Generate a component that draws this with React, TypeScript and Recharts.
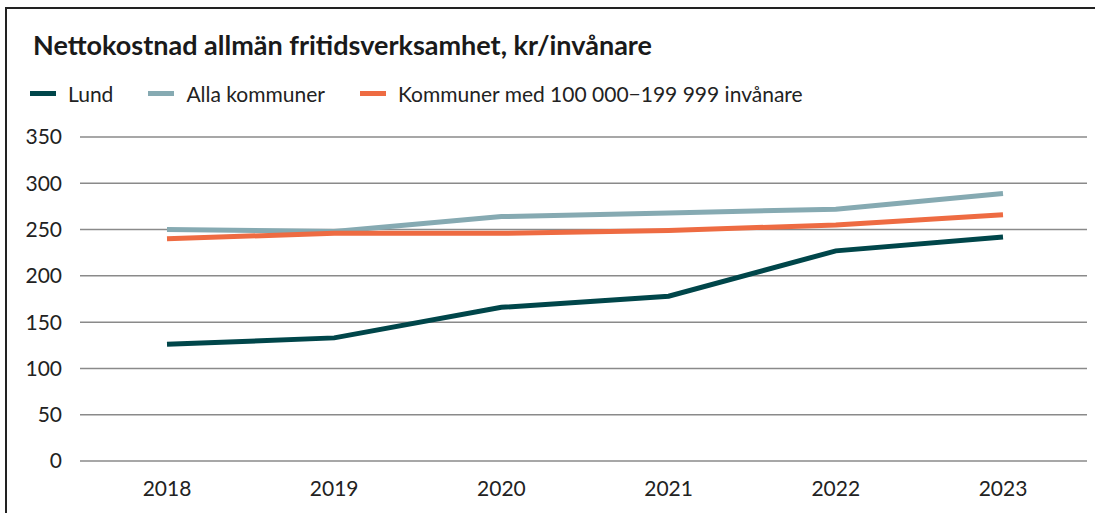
import { CartesianGrid, Line, LineChart, XAxis, YAxis } from "recharts";

const years = ["2018", "2019", "2020", "2021", "2022", "2023"];
const lund = [126, 133, 166, 178, 227, 242];
const allaKommuner = [250, 248, 264, 268, 272, 289];
const storaKommuner = [240, 246, 246, 249, 255, 266];
const yTicks = [0, 50, 100, 150, 200, 250, 300, 350];

const series = [
  { key: "lund", name: "Lund", color: "#00464a" },
  { key: "alla", name: "Alla kommuner", color: "#86aab2" },
  { key: "stora", name: "Kommuner med 100 000\u2212199 999 invånare", color: "#ee6b42" }
];

const data = years.map((year, i) => ({
  year,
  lund: lund[i],
  alla: allaKommuner[i],
  stora: storaKommuner[i]
}));

const FONT = "Lato, 'Open Sans', sans-serif";

export default function App() {
  return (
    <div
      style={{
        position: "absolute",
        left: 0,
        top: 0,
        width: 1095,
        height: 513,
        background: "#fff",
        overflow: "hidden"
      }}
    >
      <div
        style={{
          position: "absolute",
          left: 5,
          top: 7,
          width: 1200,
          height: 600,
          borderLeft: "2px solid #222",
          borderTop: "2px solid #222"
        }}
      />
      <div
        style={{
          position: "absolute",
          left: 33,
          top: 28,
          fontFamily: FONT,
          fontWeight: 700,
          fontSize: 27,
          color: "#1a1a1a",
          whiteSpace: "nowrap"
        }}
      >
        Nettokostnad allmän fritidsverksamhet, kr/invånare
      </div>
      {/* legend */}
      <div
        style={{
          position: "absolute",
          left: 30,
          top: 81,
          display: "flex",
          alignItems: "center",
          fontFamily: FONT,
          fontSize: 21,
          color: "#222",
          whiteSpace: "nowrap"
        }}
      >
        {series.map((s) => (
          <div key={s.key} style={{ display: "flex", alignItems: "center", marginRight: 35 }}>
            <span
              style={{
                display: "inline-block",
                width: 26,
                height: 5,
                background: s.color,
                marginRight: 12
              }}
            />
            <span>{s.name}</span>
          </div>
        ))}
      </div>
      <div style={{ position: "absolute", left: 0, top: 0 }}>
        <LineChart width={1095} height={513} data={data} margin={{ top: 137, right: 8, bottom: 22, left: 8 }}>
          <CartesianGrid vertical={false} stroke="#8a8a8a" strokeWidth={1.5} />
          <XAxis
            dataKey="year"
            axisLine={false}
            tickLine={false}
            tickSize={0}
            tickMargin={20}
            height={30}
            padding={{ left: 87, right: 84 }}
            tick={{ fill: "#222", fontSize: 21, fontFamily: FONT }}
          />
          <YAxis
            domain={[0, 350]}
            ticks={yTicks}
            axisLine={false}
            tickLine={false}
            tickSize={0}
            tickMargin={18}
            width={72}
            tick={{ fill: "#222", fontSize: 21, fontFamily: FONT }}
          />
          {series.map((s) => (
            <Line
              key={s.key}
              dataKey={s.key}
              name={s.name}
              stroke={s.color}
              strokeWidth={5}
              dot={false}
              activeDot={false}
              type="linear"
              isAnimationActive={false}
            />
          ))}
        </LineChart>
      </div>
    </div>
  );
}
